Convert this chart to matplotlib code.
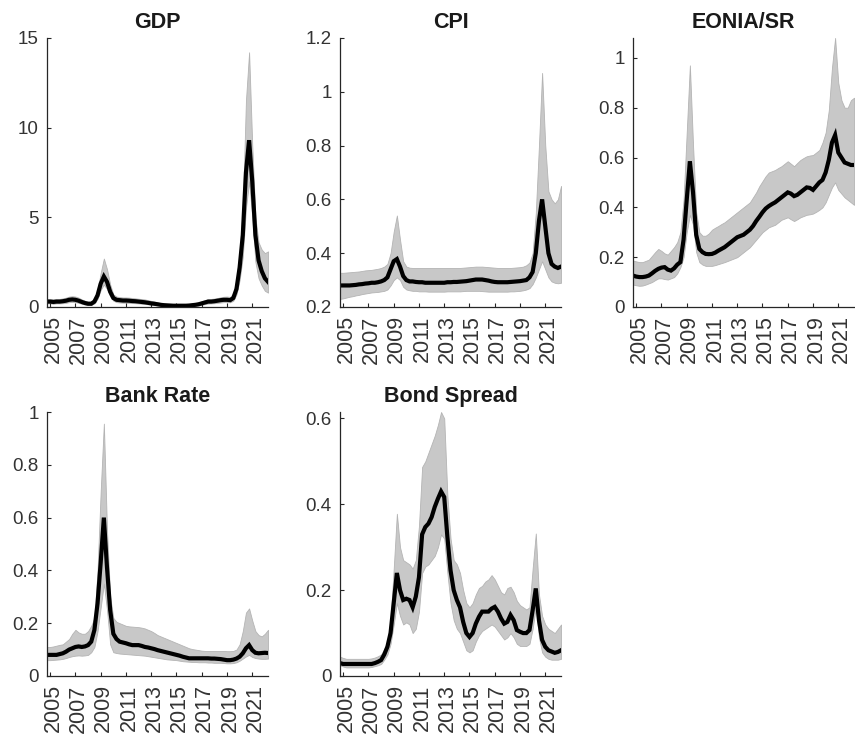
import numpy as np
import matplotlib
matplotlib.use("Agg")
import matplotlib.pyplot as plt
from matplotlib.ticker import FormatStrFormatter, FuncFormatter
from matplotlib.transforms import ScaledTranslation

# Quarterly sample, 2004Q4 .. 2022Q2 (decimal years)
dates = 2004.75 + 0.25 * np.arange(71)

# ── GDP ──────────────────────────────────────────────────────────────────────
gdp_med = [0.30, 0.30, 0.28, 0.30, 0.30,
           0.32, 0.35, 0.40, 0.42, 0.40, 0.35, 0.28, 0.22,
           0.18, 0.18, 0.30, 0.65, 1.30, 1.70, 1.40, 0.85,
           0.50, 0.40, 0.38, 0.36, 0.36, 0.35, 0.33, 0.32,
           0.30, 0.28, 0.26, 0.23, 0.20, 0.18, 0.15, 0.12,
           0.10, 0.09, 0.08, 0.07, 0.07, 0.07, 0.07, 0.07,
           0.08, 0.10, 0.12, 0.15, 0.20, 0.25, 0.30, 0.30,
           0.32, 0.35, 0.38, 0.40, 0.40, 0.38, 0.50, 1.00,
           2.20, 4.00, 7.50, 9.30, 7.00, 4.00, 2.60, 2.00,
           1.60, 1.40]
gdp_hi = [0.45, 0.45, 0.42, 0.45, 0.45,
          0.48, 0.52, 0.58, 0.60, 0.58, 0.52, 0.42, 0.35,
          0.30, 0.30, 0.45, 0.95, 1.90, 2.70, 2.10, 1.25,
          0.70, 0.58, 0.55, 0.53, 0.53, 0.52, 0.50, 0.48,
          0.46, 0.44, 0.42, 0.38, 0.34, 0.30, 0.26, 0.22,
          0.19, 0.17, 0.16, 0.15, 0.15, 0.15, 0.15, 0.15,
          0.16, 0.19, 0.22, 0.26, 0.32, 0.38, 0.44, 0.45,
          0.47, 0.50, 0.54, 0.57, 0.58, 0.56, 0.75, 1.50,
          3.00, 5.50, 11.50, 14.20, 9.00, 5.00, 3.60, 3.20,
          3.00, 3.10]
gdp_lo = [0.20, 0.20, 0.18, 0.20, 0.20,
          0.21, 0.23, 0.27, 0.28, 0.27, 0.23, 0.18, 0.14,
          0.11, 0.11, 0.20, 0.45, 0.95, 1.25, 1.00, 0.60,
          0.35, 0.27, 0.25, 0.24, 0.24, 0.23, 0.22, 0.21,
          0.20, 0.18, 0.17, 0.15, 0.13, 0.11, 0.09, 0.07,
          0.06, 0.05, 0.04, 0.04, 0.04, 0.04, 0.04, 0.04,
          0.05, 0.06, 0.07, 0.09, 0.12, 0.16, 0.19, 0.20,
          0.21, 0.23, 0.25, 0.27, 0.27, 0.26, 0.35, 0.70,
          1.50, 2.80, 5.50, 7.00, 5.00, 2.50, 1.60, 1.20,
          0.90, 0.80]

# ── CPI ──────────────────────────────────────────────────────────────────────
cpi_med = [0.280, 0.280, 0.280, 0.280, 0.281,
           0.282, 0.284, 0.285, 0.287, 0.288, 0.290, 0.290, 0.292,
           0.295, 0.300, 0.310, 0.340, 0.370, 0.378, 0.350, 0.315,
           0.300, 0.295, 0.295, 0.293, 0.292, 0.292, 0.290, 0.290,
           0.290, 0.290, 0.290, 0.290, 0.290, 0.292, 0.292, 0.293,
           0.293, 0.294, 0.295, 0.296, 0.298, 0.300, 0.302, 0.302,
           0.302, 0.300, 0.298, 0.295, 0.293, 0.292, 0.292, 0.292,
           0.292, 0.293, 0.294, 0.295, 0.296, 0.298, 0.300, 0.310,
           0.330, 0.400, 0.520, 0.600, 0.500, 0.400, 0.360, 0.350,
           0.345, 0.350]
cpi_hi = [0.327, 0.327, 0.328, 0.329, 0.330,
          0.331, 0.332, 0.334, 0.336, 0.337, 0.338, 0.340, 0.342,
          0.345, 0.350, 0.360, 0.400, 0.480, 0.540, 0.450, 0.370,
          0.350, 0.346, 0.345, 0.345, 0.345, 0.345, 0.345, 0.345,
          0.345, 0.345, 0.345, 0.345, 0.345, 0.345, 0.345, 0.345,
          0.345, 0.345, 0.346, 0.347, 0.348, 0.349, 0.350, 0.350,
          0.350, 0.349, 0.348, 0.347, 0.346, 0.345, 0.345, 0.345,
          0.345, 0.345, 0.346, 0.347, 0.348, 0.350, 0.355, 0.365,
          0.400, 0.550, 0.800, 1.070, 0.800, 0.630, 0.600, 0.585,
          0.600, 0.650]
cpi_lo = [0.230, 0.232, 0.235, 0.238, 0.240,
          0.243, 0.245, 0.248, 0.250, 0.252, 0.254, 0.255, 0.256,
          0.258, 0.260, 0.265, 0.280, 0.300, 0.310, 0.300, 0.275,
          0.265, 0.262, 0.260, 0.260, 0.258, 0.258, 0.258, 0.257,
          0.257, 0.257, 0.257, 0.257, 0.257, 0.258, 0.258, 0.258,
          0.258, 0.258, 0.259, 0.260, 0.260, 0.260, 0.260, 0.260,
          0.259, 0.258, 0.257, 0.257, 0.257, 0.257, 0.257, 0.257,
          0.257, 0.258, 0.258, 0.259, 0.260, 0.262, 0.265, 0.270,
          0.285, 0.310, 0.340, 0.370, 0.340, 0.310, 0.295, 0.290,
          0.288, 0.290]

# ── EONIA / short rate ───────────────────────────────────────────────────────
eonia_med = [0.126, 0.122, 0.120, 0.120, 0.122,
             0.126, 0.135, 0.145, 0.153, 0.158, 0.160, 0.150, 0.146,
             0.155, 0.170, 0.180, 0.270, 0.430, 0.585, 0.460, 0.290,
             0.233, 0.220, 0.213, 0.212, 0.213, 0.218, 0.226, 0.233,
             0.240, 0.250, 0.260, 0.270, 0.280, 0.285, 0.290, 0.300,
             0.310, 0.325, 0.345, 0.362, 0.380, 0.395, 0.405, 0.413,
             0.420, 0.430, 0.440, 0.450, 0.460, 0.455, 0.445, 0.450,
             0.460, 0.470, 0.480, 0.478, 0.470, 0.485, 0.500, 0.510,
             0.540, 0.590, 0.660, 0.690, 0.620, 0.600, 0.580, 0.575,
             0.570, 0.570]
eonia_hi = [0.186, 0.183, 0.180, 0.180, 0.185,
            0.190, 0.205, 0.220, 0.233, 0.225, 0.215, 0.210, 0.225,
            0.240, 0.260, 0.300, 0.430, 0.700, 0.970, 0.650, 0.380,
            0.300, 0.286, 0.286, 0.295, 0.310, 0.318, 0.325, 0.333,
            0.340, 0.350, 0.360, 0.370, 0.380, 0.390, 0.400, 0.410,
            0.420, 0.440, 0.460, 0.485, 0.505, 0.525, 0.540, 0.545,
            0.550, 0.558, 0.565, 0.575, 0.585, 0.575, 0.565, 0.578,
            0.590, 0.598, 0.605, 0.608, 0.610, 0.620, 0.630, 0.660,
            0.700, 0.790, 0.960, 1.080, 0.900, 0.830, 0.800, 0.800,
            0.830, 0.840]
eonia_lo = [0.090, 0.087, 0.085, 0.086, 0.090,
            0.095, 0.100, 0.108, 0.115, 0.115, 0.112, 0.110, 0.115,
            0.120, 0.135, 0.160, 0.200, 0.300, 0.370, 0.330, 0.220,
            0.180, 0.170, 0.165, 0.165, 0.165, 0.168, 0.172, 0.176,
            0.180, 0.185, 0.190, 0.195, 0.200, 0.210, 0.220, 0.230,
            0.240, 0.255, 0.270, 0.285, 0.300, 0.310, 0.320, 0.325,
            0.330, 0.340, 0.350, 0.355, 0.360, 0.352, 0.345, 0.352,
            0.360, 0.365, 0.370, 0.372, 0.375, 0.382, 0.390, 0.400,
            0.420, 0.450, 0.480, 0.500, 0.470, 0.455, 0.440, 0.430,
            0.420, 0.410]

# ── Bank Rate ────────────────────────────────────────────────────────────────
bank_med = [0.080, 0.080, 0.080, 0.080, 0.083,
            0.086, 0.092, 0.100, 0.105, 0.110, 0.112, 0.110, 0.112,
            0.117, 0.130, 0.174, 0.275, 0.430, 0.600, 0.410, 0.250,
            0.160, 0.140, 0.130, 0.127, 0.124, 0.120, 0.117, 0.117,
            0.117, 0.114, 0.110, 0.108, 0.105, 0.102, 0.098, 0.095,
            0.092, 0.089, 0.086, 0.083, 0.080, 0.077, 0.073, 0.070,
            0.067, 0.067, 0.067, 0.067, 0.067, 0.067, 0.067, 0.066,
            0.066, 0.065, 0.064, 0.062, 0.060, 0.060, 0.062, 0.066,
            0.073, 0.086, 0.105, 0.117, 0.098, 0.088, 0.086, 0.087,
            0.088, 0.087]
bank_hi = [0.110, 0.110, 0.112, 0.115, 0.118,
           0.120, 0.130, 0.140, 0.160, 0.175, 0.165, 0.160, 0.160,
           0.170, 0.190, 0.220, 0.400, 0.700, 0.956, 0.550, 0.300,
           0.220, 0.205, 0.200, 0.195, 0.190, 0.188, 0.187, 0.186,
           0.185, 0.183, 0.180, 0.175, 0.170, 0.163, 0.155, 0.150,
           0.145, 0.140, 0.135, 0.130, 0.125, 0.120, 0.115, 0.110,
           0.105, 0.102, 0.100, 0.098, 0.096, 0.095, 0.095, 0.095,
           0.095, 0.095, 0.095, 0.095, 0.094, 0.094, 0.095, 0.100,
           0.120, 0.170, 0.240, 0.256, 0.210, 0.170, 0.155, 0.150,
           0.160, 0.175]
bank_lo = [0.060, 0.060, 0.061, 0.062, 0.063,
           0.065, 0.068, 0.072, 0.075, 0.077, 0.078, 0.077, 0.078,
           0.080, 0.090, 0.110, 0.170, 0.260, 0.350, 0.250, 0.120,
           0.090, 0.087, 0.085, 0.084, 0.083, 0.082, 0.081, 0.080,
           0.079, 0.078, 0.077, 0.075, 0.073, 0.071, 0.069, 0.067,
           0.065, 0.063, 0.062, 0.061, 0.060, 0.058, 0.056, 0.055,
           0.054, 0.053, 0.053, 0.052, 0.052, 0.052, 0.051, 0.051,
           0.050, 0.050, 0.050, 0.049, 0.048, 0.048, 0.049, 0.052,
           0.058, 0.066, 0.074, 0.080, 0.072, 0.068, 0.066, 0.065,
           0.065, 0.066]

# ── Bond Spread ──────────────────────────────────────────────────────────────
bond_med = [0.030, 0.028, 0.028, 0.028, 0.028,
            0.028, 0.028, 0.028, 0.028, 0.028, 0.028, 0.030, 0.033,
            0.037, 0.050, 0.068, 0.100, 0.170, 0.240, 0.200, 0.177,
            0.180, 0.177, 0.160, 0.185, 0.230, 0.330, 0.347, 0.355,
            0.370, 0.394, 0.413, 0.430, 0.417, 0.324, 0.246, 0.200,
            0.177, 0.160, 0.126, 0.100, 0.091, 0.100, 0.122, 0.138,
            0.150, 0.150, 0.150, 0.157, 0.161, 0.150, 0.134, 0.122,
            0.126, 0.142, 0.130, 0.107, 0.103, 0.100, 0.100, 0.107,
            0.153, 0.204, 0.130, 0.084, 0.068, 0.060, 0.057, 0.054,
            0.056, 0.060]
bond_hi = [0.045, 0.042, 0.040, 0.040, 0.040,
           0.040, 0.040, 0.040, 0.040, 0.040, 0.041, 0.043, 0.046,
           0.050, 0.062, 0.080, 0.130, 0.250, 0.378, 0.300, 0.270,
           0.265, 0.260, 0.250, 0.270, 0.350, 0.487, 0.500, 0.520,
           0.540, 0.560, 0.585, 0.615, 0.600, 0.420, 0.320, 0.270,
           0.260, 0.240, 0.200, 0.170, 0.160, 0.170, 0.190, 0.205,
           0.210, 0.220, 0.225, 0.235, 0.225, 0.210, 0.195, 0.190,
           0.205, 0.208, 0.195, 0.175, 0.165, 0.160, 0.155, 0.160,
           0.250, 0.332, 0.190, 0.140, 0.120, 0.110, 0.105, 0.100,
           0.110, 0.120]
bond_lo = [0.025, 0.022, 0.020, 0.020, 0.020,
           0.020, 0.020, 0.020, 0.020, 0.020, 0.021, 0.023, 0.025,
           0.028, 0.038, 0.050, 0.075, 0.120, 0.170, 0.140, 0.120,
           0.125, 0.120, 0.100, 0.110, 0.150, 0.240, 0.255, 0.260,
           0.270, 0.280, 0.300, 0.330, 0.320, 0.240, 0.170, 0.130,
           0.110, 0.100, 0.080, 0.060, 0.055, 0.060, 0.080, 0.095,
           0.105, 0.110, 0.115, 0.120, 0.115, 0.105, 0.095, 0.085,
           0.090, 0.100, 0.090, 0.075, 0.070, 0.070, 0.070, 0.075,
           0.110, 0.160, 0.090, 0.055, 0.045, 0.040, 0.038, 0.038,
           0.038, 0.040]

year_ticks = list(range(2005, 2022, 2))

# (title, median, lower, upper, ylim, yticks, axes rect in figure fractions)
panels = [
    ("GDP", gdp_med, gdp_lo, gdp_hi, (0, 15), [0, 5, 10, 15],
     [0.0550, 0.5874, 0.2585, 0.3616]),
    ("CPI", cpi_med, cpi_lo, cpi_hi, (0.2, 1.2), [0.2, 0.4, 0.6, 0.8, 1.0, 1.2],
     [0.3977, 0.5874, 0.2585, 0.3616]),
    ("EONIA/SR", eonia_med, eonia_lo, eonia_hi, (0, 1.08), [0, 0.2, 0.4, 0.6, 0.8, 1.0],
     [0.7404, 0.5874, 0.2585, 0.3616]),
    ("Bank Rate", bank_med, bank_lo, bank_hi, (0, 1.0), [0, 0.2, 0.4, 0.6, 0.8, 1.0],
     [0.0550, 0.0914, 0.2585, 0.3548]),
    ("Bond Spread", bond_med, bond_lo, bond_hi, (0, 0.615), [0, 0.2, 0.4, 0.6],
     [0.3977, 0.0914, 0.2585, 0.3548]),
]

TEXT = "#333333"
BAND = "#c8c8c8"

plt.rcParams["font.family"] = ["Liberation Sans", "DejaVu Sans"]

fig = plt.figure(figsize=(8.55, 7.44), dpi=100)

for title, med, lo, hi, ylim, yticks, rect in panels:
    ax = fig.add_axes(rect)
    ax.fill_between(dates, lo, hi, facecolor=BAND, edgecolor="#b4b4b4",
                    linewidth=0.6)
    ax.plot(dates, med, color="black", linewidth=3.0, solid_joinstyle="miter")

    ax.set_xlim(dates[0], dates[-1])
    ax.set_ylim(*ylim)
    ax.set_xticks(year_ticks)
    ax.set_yticks(yticks)
    ax.yaxis.set_major_formatter(FuncFormatter(lambda v, _: f"{v:g}"))
    ax.xaxis.set_major_formatter(FormatStrFormatter("%d"))

    for side in ("top", "right"):
        ax.spines[side].set_visible(False)
    for side in ("left", "bottom"):
        ax.spines[side].set_color("#262626")
        ax.spines[side].set_linewidth(0.9)

    ax.tick_params(direction="in", length=3, width=0.8, colors="#262626",
                   labelcolor=TEXT)
    ax.tick_params(axis="y", pad=6, labelsize=13.5)
    ax.tick_params(axis="x", pad=6, labelsize=15.5, labelrotation=90)
    # rotated year labels sit a little to the right of their ticks
    shift = ScaledTranslation(3 / 100, 0, fig.dpi_scale_trans)
    for lab in ax.get_xticklabels():
        lab.set_transform(lab.get_transform() + shift)

    ax.set_title(title, fontsize=15.5, fontweight="bold", color="#1a1a1a",
                 pad=7)

fig.savefig("out.png", dpi=100)
